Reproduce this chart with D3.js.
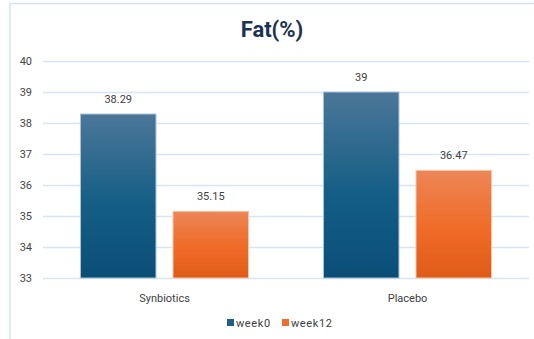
<!DOCTYPE html>
<html>
<head>
<meta charset="utf-8">
<script src="https://cdn.jsdelivr.net/npm/d3@7"></script>
<style>
  html, body { margin: 0; padding: 0; background: #fff; }
  svg { display: block; font-family: Roboto, "Noto Sans", sans-serif; }
</style>
</head>
<body>
<svg id="chart" width="534" height="339"></svg>
<script>
// Body fat percentage by group, baseline vs week 12
const categories = ["Synbiotics", "Placebo"];
const seriesNames = ["week0", "week12"];
const week0 = [38.29, 39];
const week12 = [35.15, 36.47];
const yTicks = [33, 34, 35, 36, 37, 38, 39, 40];
const titleText = "Fat(%)";

const series = [
  { name: seriesNames[0], values: week0, stops: ["#4b7798", "#145e85", "#0a4e76"], key: "#1f5f86", edge: "#a9c3d8" },
  { name: seriesNames[1], values: week12, stops: ["#ed8657", "#ef6b27", "#df5b18"], key: "#ec6f2e", edge: "#f7c4a8" }
];

const svg = d3.select("#chart");
const W = 534, H = 339;
const plot = { left: 43, right: 529, top: 61, bottom: 278 };

// Frame (top and left edges)
svg.append("line").attr("x1", 10).attr("x2", W).attr("y1", 3.5).attr("y2", 3.5)
  .attr("stroke", "#d3e3f2").attr("stroke-width", 1.5);
svg.append("line").attr("x1", 10).attr("x2", 10).attr("y1", 3.5).attr("y2", H)
  .attr("stroke", "#d3e3f2").attr("stroke-width", 1.5);

// Vertical gradients for the bars
const defs = svg.append("defs");
series.forEach((s, i) => {
  const g = defs.append("linearGradient").attr("id", "grad" + i)
    .attr("x1", 0).attr("x2", 0).attr("y1", 0).attr("y2", 1);
  g.append("stop").attr("offset", "0%").attr("stop-color", s.stops[0]);
  g.append("stop").attr("offset", "55%").attr("stop-color", s.stops[1]);
  g.append("stop").attr("offset", "100%").attr("stop-color", s.stops[2]);
});

const y = d3.scaleLinear().domain([33, 40]).range([plot.bottom, plot.top]);
const x0 = d3.scaleBand().domain(categories).range([plot.left, plot.right]).padding(0);
const x1 = d3.scaleBand().domain(seriesNames).range([0, x0.bandwidth()])
  .paddingInner(0.184).paddingOuter(0.405);

// Title
svg.append("text").attr("x", 272).attr("y", 37).attr("text-anchor", "middle")
  .attr("font-size", 22).attr("font-weight", "bold").attr("fill", "#1b3350")
  .text(titleText);

// Gridlines and value axis
const yAxis = d3.axisLeft(y).tickValues(yTicks).tickSize(-(plot.right - plot.left))
  .tickFormat(d3.format("d")).tickPadding(11);
const ga = svg.append("g").attr("transform", `translate(${plot.left},0)`).call(yAxis);
ga.select(".domain").remove();
ga.selectAll(".tick line").attr("stroke", "#d6e5f3").attr("stroke-width", 1.5);
ga.selectAll(".tick text").attr("font-size", 11).attr("fill", "#454545")
  .attr("font-family", "Roboto, 'Noto Sans', sans-serif");

// Bars
const groups = svg.append("g").selectAll("g").data(categories).join("g")
  .attr("transform", d => `translate(${x0(d)},0)`);

series.forEach((s, i) => {
  groups.append("rect")
    .attr("x", x1(s.name))
    .attr("width", x1.bandwidth())
    .attr("y", (d, j) => y(s.values[j]))
    .attr("height", (d, j) => y(33) - y(s.values[j]))
    .attr("fill", `url(#grad${i})`)
    .attr("stroke", s.edge).attr("stroke-width", 1);
  groups.append("text")
    .attr("x", x1(s.name) + x1.bandwidth() / 2)
    .attr("y", (d, j) => y(s.values[j]) - 11)
    .attr("text-anchor", "middle").attr("font-size", 11).attr("fill", "#404040")
    .text((d, j) => String(s.values[j]));
});

// Category labels
const xAxis = d3.axisBottom(x0).tickSize(0).tickPadding(16);
const gx = svg.append("g").attr("transform", `translate(0,${plot.bottom})`).call(xAxis);
gx.select(".domain").remove();
gx.selectAll(".tick text").attr("font-size", 11).attr("fill", "#404040")
  .attr("font-family", "Roboto, 'Noto Sans', sans-serif");

// Legend
const legend = svg.append("g").attr("transform", "translate(227,319)");
const legendX = [0, 55];
series.forEach((s, i) => {
  const lg = legend.append("g").attr("transform", `translate(${legendX[i]},0)`);
  lg.append("rect").attr("width", 7).attr("height", 7).attr("fill", s.key);
  lg.append("text").attr("x", 9).attr("y", 7.5).attr("font-size", 11)
    .attr("fill", "#404040").attr("letter-spacing", 0.6).text(s.name);
});
</script>
</body>
</html>
